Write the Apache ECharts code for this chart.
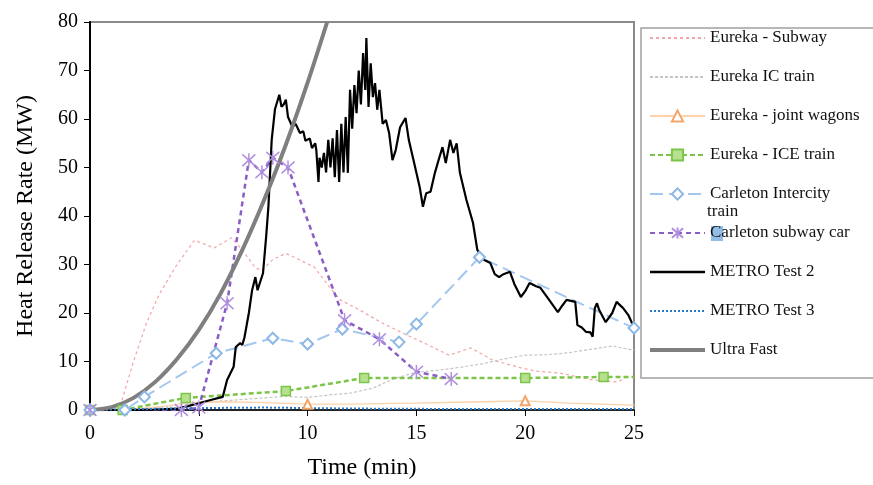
<!DOCTYPE html>
<html>
<head>
<meta charset="utf-8">
<script src="https://cdn.jsdelivr.net/npm/echarts@6/dist/echarts.min.js"></script>
<style>html,body{margin:0;padding:0;background:#fff;}#c{width:873px;height:485px;}</style>
</head>
<body>
<div id="c"></div>
<script>
// ---- data (time in min, HRR in MW) ----
const xTicks = [0, 5, 10, 15, 20, 25];
const yTicks = [0, 10, 20, 30, 40, 50, 60, 70, 80];

const eurekaSubway = [[0,0],[1.4,1],[2.0,10],[2.6,18],[3.2,24],[4.0,30],[4.8,35],[5.7,33.4],[6.5,35.5],[7.0,33],[7.6,29.3],[7.9,28.8],[8.4,31],[9.0,32.3],[9.6,31],[10.3,29.5],[11.0,25.4],[11.5,22.7],[12.4,20.6],[13.4,18],[14.4,15.8],[15.5,13.5],[16.5,11.3],[17.5,12.8],[18.5,10.3],[19.8,8.7],[20.5,8],[21.6,7.6],[23.1,6.2],[24.2,5.8],[24.6,6.5]];

const eurekaIC = [[0,0],[1.5,0],[3,0.5],[5,1.5],[6.5,2],[8,2.5],[9,2.8],[10,2.6],[11,3.1],[12,3.5],[13,4.5],[14,6.5],[15,7.8],[16,8.2],[17,8.8],[18,9.5],[19,10.5],[20,11.3],[21,11.4],[22,11.8],[23,12.5],[24,13.2],[25,12.3]];

const jointWagons = [[0,0],[2,0.2],[3.5,0.8],[4.5,1.5],[6,1.7],[8,1.5],[10,1.2],[12,1.2],[15,1.4],[18,1.7],[20,1.9],[22,1.4],[25,1.0]];
const jointWagonsMarked = [10, 20];

const iceTrain = [[0,0],[1.5,0],[4.4,2.5],[9,3.9],[12.6,6.6],[20,6.6],[23.6,6.8],[25,6.8]];
const iceTrainMarked = [0, 1.5, 4.4, 9, 12.6, 20, 23.6];

const carletonIntercity = [[0,0],[1.6,0],[2.5,2.7],[5.8,11.7],[8.4,14.8],[10,13.6],[11.6,16.7],[14.2,14],[15,17.7],[17.9,31.5],[25,16.9]];

const carletonSubway = [[0,0],[4.2,0],[5,0.5],[6.3,22],[7.3,51.5],[7.9,49],[8.4,52],[9.1,50],[11.7,18.5],[13.3,14.6],[15,7.9],[16.6,6.4]];

const metroTest2 = [[0,0],[1,0],[2,0],[3,0.1],[4,0.3],[4.5,0.8],[5,1.4],[5.5,2],[6.1,2.7],[6.3,6.2],[6.6,8.9],[6.7,13],[6.9,13.8],[7.0,13.4],[7.1,15],[7.3,20],[7.45,24.7],[7.6,27.4],[7.7,24.7],[7.95,28.2],[8.1,36],[8.2,42],[8.35,55.7],[8.5,62],[8.6,63.5],[8.7,65],[8.8,62.5],[8.9,63],[9.0,64],[9.1,60.4],[9.3,58.4],[9.45,59],[9.65,57.1],[9.8,57.5],[9.9,55.5],[10.1,56],[10.2,54],[10.35,55],[10.4,53.6],[10.5,47],[10.55,52],[10.65,50],[10.75,53],[10.85,49],[10.95,55.7],[11.05,50],[11.15,56],[11.25,48],[11.35,57.7],[11.45,47],[11.55,59],[11.65,49],[11.75,60.4],[11.85,48.9],[11.95,66],[12.05,58],[12.15,67],[12.25,61.2],[12.35,70],[12.45,63],[12.55,73.6],[12.65,66],[12.7,76.7],[12.8,62.5],[12.9,71.5],[13.0,64.5],[13.1,67.4],[13.2,61.9],[13.3,66],[13.45,59],[13.6,59.8],[13.75,57],[13.9,51.5],[14.05,53.6],[14.25,58.3],[14.5,60.2],[14.65,55.7],[14.9,50.9],[15.15,46],[15.3,41.9],[15.45,44.7],[15.65,45],[15.85,48.9],[16.05,52],[16.2,54.2],[16.35,50.9],[16.55,55.7],[16.7,53],[16.85,55],[17.0,48.9],[17.3,43.3],[17.6,38.6],[17.8,33],[17.9,32.3],[18.1,31],[18.4,30.3],[18.6,28],[18.8,27.4],[19.0,28],[19.3,28.5],[19.5,26],[19.8,23.3],[20.0,24.5],[20.2,26.2],[20.5,25.5],[20.7,25.2],[21.1,22.7],[21.5,20.2],[21.7,21.5],[21.9,22.7],[22.3,22.3],[22.4,17.5],[22.6,17],[22.8,16.1],[23.0,16],[23.1,15.1],[23.2,21],[23.3,22],[23.4,20.6],[23.7,18.1],[24.0,20],[24.2,22.3],[24.5,21],[24.75,19.5],[25,17]];

const metroTest3 = [[0,0],[5,0.4],[8,0.5],[12,0.3],[17,0.2],[25,0.2]];

const ultraFast = [[0,0],[1,0.6],[2,2.5],[3,5.8],[4,10.5],[5,16.5],[6,24],[7,33],[8,43.3],[9,54.7],[10,67.5],[10.9,80]];

const seriesNames = ['Eureka - Subway','Eureka IC train','Eureka - joint wagons','Eureka - ICE train','Carleton Intercity train','Carleton subway car','METRO Test 2','METRO Test 3','Ultra Fast'];
const noMarkerNames = ['Eureka - Subway','Eureka IC train','METRO Test 2','METRO Test 3','Ultra Fast'];

// ---- chart ----
const FONT = 'Liberation Serif';
function mark(points, marked) {
  return points.map(p => (marked == null || marked.indexOf(p[0]) >= 0) ? { value: p } : { value: p, symbol: 'none' });
}
const asterisk = 'path://M0,1L10,11M10,1L0,11M5,0L5,12';
const legendLineWidth = { 'METRO Test 2': 2.5, 'Ultra Fast': 4 };

const chart = echarts.init(document.getElementById('c'), null, { renderer: 'canvas' });
chart.setOption({
  animation: false,
  backgroundColor: '#fff',
  textStyle: { fontFamily: FONT },
  grid: { left: 90, right: 239, top: 22, bottom: 75, show: true, borderColor: '#8a8a8a', borderWidth: 2 },
  xAxis: {
    type: 'value', min: xTicks[0], max: xTicks[xTicks.length - 1], interval: 5,
    axisLine: { show: true, lineStyle: { color: '#000', width: 1.5 } },
    axisTick: { show: true, length: 6, lineStyle: { color: '#000' } },
    splitLine: { show: false },
    axisLabel: { color: '#000', fontSize: 20, fontFamily: FONT, margin: 14 },
    name: 'Time (min)', nameLocation: 'middle', nameGap: 46,
    nameTextStyle: { color: '#000', fontSize: 24, fontFamily: FONT }
  },
  yAxis: {
    type: 'value', min: yTicks[0], max: yTicks[yTicks.length - 1], interval: 10,
    axisLine: { show: true, lineStyle: { color: '#000', width: 2 } },
    axisTick: { show: true, length: 6, lineStyle: { color: '#000' } },
    splitLine: { show: false },
    axisLabel: { color: '#000', fontSize: 20, fontFamily: FONT, margin: 12 },
    name: 'Heat Release Rate (MW)', nameLocation: 'middle', nameGap: 52, nameRotate: 90,
    nameTextStyle: { color: '#000', fontSize: 24, fontFamily: FONT }
  },
  legend: {
    orient: 'vertical', left: 648, top: 28, padding: 0,
    itemWidth: 55, itemHeight: 14, itemGap: 19,
    textStyle: { fontFamily: FONT, fontSize: 17, color: '#111', lineHeight: 20 },
    formatter: n => n === 'Carleton Intercity train' ? 'Carleton Intercity' : n,
    data: seriesNames.map(n => {
      const item = { name: n };
      if (noMarkerNames.indexOf(n) >= 0) item.itemStyle = { opacity: 0 };
      if (legendLineWidth[n]) item.lineStyle = { width: legendLineWidth[n] };
      return item;
    })
  },
  graphic: [
    { type: 'rect', shape: { x: 641, y: 28, width: 240, height: 350 }, style: { fill: 'none', stroke: '#a0a0a0', lineWidth: 1.5 }, z: -1 },
    { type: 'text', left: 707, top: 203, style: { text: 'train', font: '17px "Liberation Serif"', fill: '#111' } },
    { type: 'rect', shape: { x: 711, y: 226, width: 12, height: 15 }, style: { fill: '#7fb2e2', opacity: 0.85 } }
  ],
  series: [
    { name: seriesNames[0], type: 'line', data: eurekaSubway, symbol: 'none',
      lineStyle: { color: '#f2a5a5', width: 1.2, type: [3, 3] }, itemStyle: { color: '#f2a5a5' } },
    { name: seriesNames[1], type: 'line', data: eurekaIC, symbol: 'none',
      lineStyle: { color: '#c4c4c4', width: 1.2, type: [3, 2] }, itemStyle: { color: '#c4c4c4' } },
    { name: seriesNames[2], type: 'line', data: mark(jointWagons, jointWagonsMarked), symbol: 'emptyTriangle', symbolSize: 9,
      lineStyle: { color: '#fdd2a8', width: 1.3 }, itemStyle: { color: '#f5a56a', borderWidth: 1 } },
    { name: seriesNames[3], type: 'line', data: mark(iceTrain, iceTrainMarked), symbol: 'rect', symbolSize: 9,
      lineStyle: { color: '#7cc54a', width: 2.5, type: [5, 3] }, itemStyle: { color: '#b6e08e', borderColor: '#7cc54a', borderWidth: 1.5 } },
    { name: seriesNames[4], type: 'line', data: carletonIntercity, symbol: 'emptyDiamond', symbolSize: 11,
      lineStyle: { color: '#a3c6ee', width: 2, type: [13, 6] }, itemStyle: { color: '#8cb7e6', borderWidth: 1.5 } },
    { name: seriesNames[5], type: 'line', data: carletonSubway, symbol: asterisk, symbolSize: [13, 14],
      lineStyle: { color: '#8a5cc6', width: 2.5, type: [5, 4] }, itemStyle: { color: 'rgba(0,0,0,0)', borderColor: '#b08ee0', borderWidth: 1.5 } },
    { name: seriesNames[6], type: 'line', data: metroTest2, symbol: 'none',
      lineStyle: { color: '#000', width: 2.2 }, itemStyle: { color: '#000' } },
    { name: seriesNames[7], type: 'line', data: metroTest3, symbol: 'none',
      lineStyle: { color: '#2a78c8', width: 2, type: 'dotted' }, itemStyle: { color: '#2a78c8' } },
    { name: seriesNames[8], type: 'line', data: ultraFast, symbol: 'none', smooth: 0.3,
      lineStyle: { color: '#7f7f7f', width: 4 }, itemStyle: { color: '#7f7f7f' } }
  ]
});
</script>
</body>
</html>
